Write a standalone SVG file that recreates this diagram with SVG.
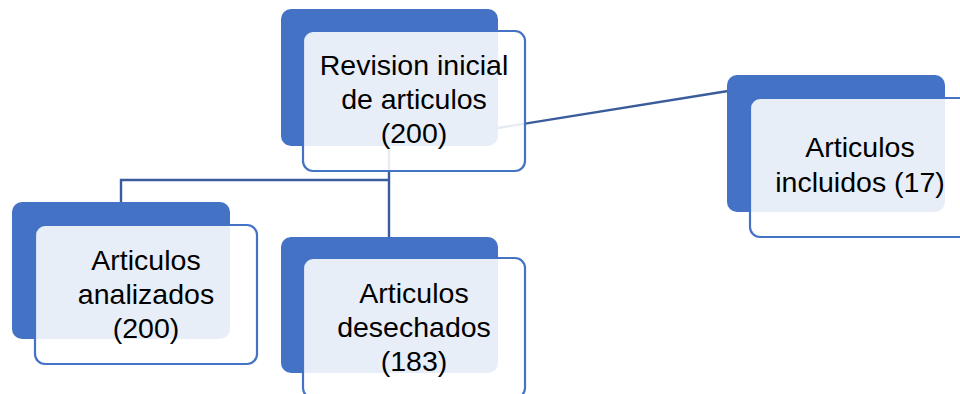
<svg xmlns="http://www.w3.org/2000/svg" width="960" height="394" viewBox="0 0 960 394">
<style>
.back{fill:#4472C4}
.front{fill:#ffffff;fill-opacity:0.88;stroke:#4472C4;stroke-width:2.2}
.lbl{font-family:"Liberation Sans",Arial,sans-serif;font-size:28.5px;fill:#000;text-anchor:middle}
.conn{stroke:#3A5C9C;stroke-width:2.4;fill:none}
</style>
<rect width="960" height="394" fill="#ffffff"/>
<g id="connectors">
<line class="conn" x1="498" y1="128" x2="728" y2="91"/>
<polyline class="conn" points="389,146 389,238"/>
<polyline class="conn" points="389,180 121,180 121,203"/>
</g>
<g id="node-revision">
<rect class="back" x="281" y="9" width="217" height="137" rx="10"/>
<rect class="front" x="303" y="31" width="222" height="140" rx="10"/>
<text class="lbl" x="414" y="75">Revision inicial</text>
<text class="lbl" x="414" y="109">de articulos</text>
<text class="lbl" x="414" y="143">(200)</text>
</g>
<g id="node-analizados">
<rect class="back" x="12" y="202" width="218" height="137" rx="10"/>
<rect class="front" x="35" y="225" width="222" height="139" rx="10"/>
<text class="lbl" x="146" y="270">Articulos</text>
<text class="lbl" x="146" y="304">analizados</text>
<text class="lbl" x="146" y="338">(200)</text>
</g>
<g id="node-desechados">
<rect class="back" x="281" y="237" width="217" height="136" rx="10"/>
<rect class="front" x="303" y="258" width="222" height="140" rx="10"/>
<text class="lbl" x="414" y="303">Articulos</text>
<text class="lbl" x="414" y="337">desechados</text>
<text class="lbl" x="414" y="371">(183)</text>
</g>
<g id="node-incluidos">
<rect class="back" x="727" y="75" width="218" height="137" rx="10"/>
<rect class="front" x="750" y="98" width="222" height="139" rx="10"/>
<text class="lbl" x="860" y="157">Articulos</text>
<text class="lbl" x="860" y="192">incluidos (17)</text>
</g>
</svg>
